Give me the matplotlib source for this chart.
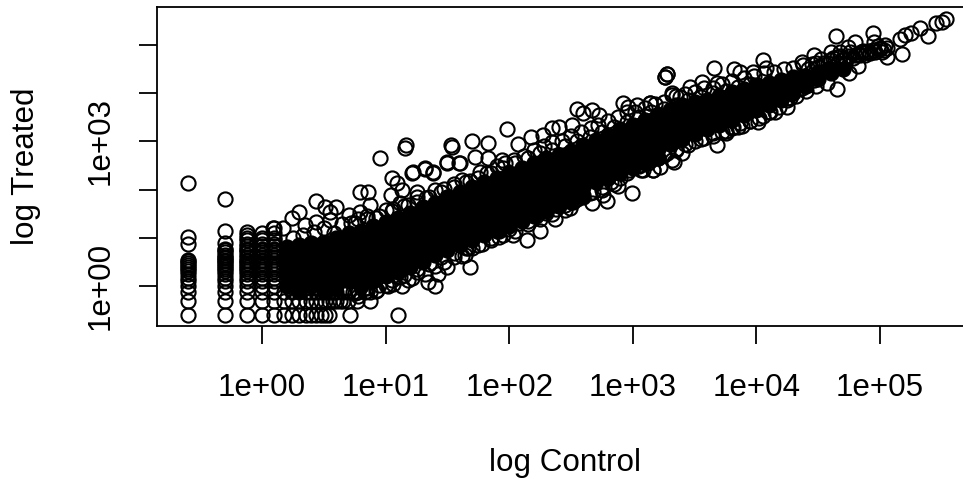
'''
Log-log scatter of treated against control counts, R base graphics look.
Values are read off the picture, as log10 of the counts.
'''
import matplotlib
matplotlib.use("Agg")
import matplotlib.pyplot as plt

plt.rcParams['font.family'] = ['Liberation Sans', 'DejaVu Sans']

W, H = 963, 480

#------------------------------------------------------------------------------#
# Data (log10 control, log10 treated)                                          #
#------------------------------------------------------------------------------#

# the small counts sit on quarter steps, so they fall in columns and rows
col1_x = -0.602
col1_y = [-0.602, -0.301, -0.125, 0, 0.097, 0.176, 0.243, 0.301, 0.352, 0.398, 0.439, 0.477, 0.512, 0.544, 0.87, 1.01, 2.14]
col2_x = -0.301
col2_y = [-0.602, -0.301, -0.125, 0, 0.097, 0.176, 0.243, 0.301, 0.352, 0.398, 0.439, 0.477, 0.512, 0.544, 0.574, 0.602, 0.653, 0.699, 0.74, 0.778, 0.89, 1.14, 1.81]
col3_x = -0.125
col3_y = [-0.602, -0.301, -0.125, 0, 0.097, 0.176, 0.243, 0.301, 0.352, 0.398, 0.439, 0.477, 0.512, 0.544, 0.602, 0.653, 0.699, 0.74, 0.778, 0.83, 0.875, 0.95, 1.0, 1.05, 1.12]
col4_x = 0
col4_y = [-0.602, -0.301, -0.125, 0, 0.097, 0.176, 0.243, 0.301, 0.352, 0.398, 0.439, 0.477, 0.512, 0.544, 0.602, 0.653, 0.699, 0.74, 0.778, 0.83, 0.875, 0.95, 1.0, 1.1]
col5_x = 0.097
col5_y = [-0.602, -0.301, -0.125, 0, 0.097, 0.176, 0.243, 0.301, 0.352, 0.398, 0.439, 0.477, 0.544, 0.602, 0.653, 0.699, 0.74, 0.778, 0.83, 0.875, 0.95, 1.0, 1.1, 1.2]

row1_y = -0.602
row1_x = [0.176, 0.243, 0.301, 0.352, 0.398, 0.439, 0.477, 0.512, 0.544, 0.71, 1.10]
row2_y = -0.301
row2_x = [0.176, 0.243, 0.301, 0.352, 0.398, 0.439, 0.477, 0.512, 0.544, 0.574, 0.602, 0.628, 0.653, 0.699, 0.77, 0.875]
row3_y = -0.125
row3_x = [0.176, 0.243, 0.301, 0.352, 0.398, 0.439, 0.477, 0.512, 0.544, 0.574, 0.602, 0.653, 0.699, 0.74, 0.778, 0.83, 0.875]

# loose circles along the upper edge of the cloud
upper_x = [0.17, 0.09, 0.24, 0.30, 0.35, 0.44, 0.44, 0.51, 0.55, 0.55, 0.60, 0.70, 0.79, 0.79, 0.86, 0.87, 0.955, 1.04, 1.05, 1.09, 1.13, 1.16, 1.165, 1.21, 1.22, 1.25,
           1.32, 1.32, 1.38, 1.38, 1.50, 1.50, 1.53, 1.54, 1.59, 1.60, 1.70, 1.72, 1.83, 1.83, 1.94, 1.98, 2.07, 2.18, 2.27, 2.35, 2.40, 2.51, 2.55, 2.60, 2.67, 2.73,
           2.92, 2.96, 3.03, 3.14, 3.14, 3.26, 3.26, 3.28, 3.28, 3.32, 3.32, 3.38, 3.46, 3.56, 3.66, 3.68, 3.82, 3.87, 3.97, 4.05, 4.08, 4.37, 4.47]
upper_y = [1.20, 1.20, 1.41, 1.54, 1.27, 1.76, 1.33, 1.64, 1.54, 1.37, 1.64, 1.47, 1.95, 1.54, 1.95, 1.68, 2.65, 1.89, 2.24, 2.14, 1.99, 2.86, 2.93, 2.35, 2.37, 1.95,
           2.43, 2.45, 2.34, 2.37, 2.55, 2.57, 2.93, 2.88, 2.55, 2.55, 3.00, 2.68, 2.97, 2.66, 2.61, 3.26, 2.95, 3.09, 3.13, 3.28, 3.30, 3.34, 3.67, 3.59, 3.65, 3.55,
           3.80, 3.71, 3.75, 3.80, 3.80, 4.33, 4.33, 4.40, 4.40, 4.00, 3.96, 3.92, 4.13, 4.23, 4.52, 4.21, 4.50, 4.44, 4.44, 4.69, 4.52, 4.65, 4.79]

# the crowded fringe right above the solid part
fringe_hi_x = [0.25, 0.33, 0.42, 0.50, 0.58, 0.65, 0.72, 0.78, 0.85, 0.92, 1.00, 1.06, 1.12, 1.18, 1.25, 1.33, 1.40, 1.47, 1.55, 1.62, 1.68, 1.76, 1.82, 1.90, 1.97, 2.04, 2.12, 2.20, 2.28,
               2.35, 2.43, 2.50, 2.58, 2.66, 2.72, 2.80, 2.88, 2.95, 3.02, 3.10, 3.18, 3.25, 3.35, 3.42, 3.50, 3.58, 3.65, 3.72, 3.80, 3.90, 3.98, 4.06, 4.14, 4.22, 4.30, 4.38, 4.45]
fringe_hi_y = [1.00, 1.05, 1.12, 1.20, 1.10, 1.28, 1.30, 1.38, 1.45, 1.42, 1.58, 1.60, 1.72, 1.68, 1.85, 1.82, 2.00, 2.02, 2.12, 2.20, 2.18, 2.36, 2.34, 2.48, 2.55, 2.62, 2.70, 2.82, 2.90,
               2.98, 3.00, 3.12, 3.20, 3.28, 3.35, 3.42, 3.50, 3.60, 3.62, 3.70, 3.78, 3.82, 3.95, 3.98, 4.03, 4.10, 4.10, 4.20, 4.25, 4.32, 4.36, 4.42, 4.45, 4.50, 4.52, 4.58, 4.60]
inner_hi_x = [0.75, 0.85, 0.95, 1.05, 1.15, 1.25, 1.35, 1.45, 1.55, 1.65, 1.75, 1.85, 1.95, 2.05, 2.15, 2.25, 2.35, 2.45, 2.55, 2.65, 2.75, 2.85, 2.95, 3.05, 3.15, 3.25, 3.35, 3.45, 3.55, 3.65, 3.75, 3.85, 3.95]
inner_hi_y = [1.30, 1.38, 1.45, 1.55, 1.65, 1.75, 1.85, 1.95, 2.05, 2.15, 2.25, 2.35, 2.45, 2.55, 2.65, 2.75, 2.82, 2.90, 3.00, 3.10, 3.20, 3.30, 3.40, 3.50, 3.60, 3.68, 3.76, 3.85, 3.92, 4.00, 4.05, 4.12, 4.20]

# loose circles along the lower edge of the cloud
lower_x = [0.93, 1.02, 1.13, 1.21, 1.34, 1.40, 1.42, 1.50, 1.64, 1.67, 1.68, 1.92, 2.03, 2.14, 2.25, 2.37, 2.49, 2.67, 2.76, 2.79, 2.88, 2.99, 3.07, 3.08, 3.16, 3.16,
           3.22, 3.32, 3.33, 3.40, 3.68, 3.75, 3.81, 3.87, 4.01, 4.11, 4.25, 4.27, 4.37, 4.47, 4.57, 4.65, 4.75, 4.82]
lower_y = [-0.08, 0.00, 0.00, 0.16, 0.08, 0.00, 0.25, 0.40, 0.64, 0.79, 0.40, 1.02, 1.06, 0.95, 1.14, 1.39, 1.62, 1.72, 1.89, 1.76, 2.07, 1.93, 2.41, 2.41, 2.41, 2.41,
           2.47, 2.61, 2.57, 2.76, 2.93, 3.17, 3.30, 3.38, 3.40, 3.61, 3.90, 3.90, 4.11, 4.27, 4.21, 4.09, 4.42, 4.56]

# the crowded fringe right below the solid part
fringe_lo_x = [0.70, 0.78, 0.85, 0.92, 1.00, 1.06, 1.12, 1.18, 1.25, 1.32, 1.40, 1.47, 1.55, 1.62, 1.70, 1.78, 1.85, 1.92, 2.00, 2.08, 2.15, 2.22, 2.30, 2.38, 2.45, 2.52,
               2.60, 2.68, 2.75, 2.82, 2.90, 2.97, 3.05, 3.12, 3.20, 3.28, 3.35, 3.42, 3.50, 3.58, 3.65, 3.72, 3.80, 3.88, 3.95, 4.02, 4.10, 4.18, 4.25, 4.32, 4.40, 4.48]
fringe_lo_y = [-0.10, -0.20, -0.05, -0.10, 0.02, 0.05, 0.18, 0.12, 0.30, 0.25, 0.42, 0.50, 0.60, 0.62, 0.78, 0.88, 1.00, 1.15, 1.18, 1.30, 1.35, 1.45, 1.52, 1.60, 1.68, 1.75,
               1.88, 1.95, 2.05, 2.15, 2.25, 2.40, 2.50, 2.55, 2.65, 2.75, 2.85, 2.95, 3.00, 3.08, 3.18, 3.20, 3.28, 3.32, 3.42, 3.48, 3.60, 3.72, 3.85, 3.95, 4.05, 4.15]
inner_lo_x = [0.75, 0.85, 0.95, 1.05, 1.15, 1.25, 1.35, 1.45, 1.55, 1.65, 1.75, 1.85, 1.95, 2.05, 2.15, 2.25, 2.35, 2.45, 2.55, 2.65, 2.75, 2.85, 2.95, 3.05, 3.15, 3.25, 3.35, 3.45, 3.55, 3.65, 3.75, 3.85, 3.95, 4.05, 4.15, 4.25]
inner_lo_y = [-0.15, -0.10, 0.02, 0.12, 0.22, 0.35, 0.45, 0.60, 0.68, 0.78, 0.85, 0.95, 1.05, 1.15, 1.28, 1.38, 1.50, 1.58, 1.80, 1.92, 2.00, 2.12, 2.35, 2.52, 2.62, 2.72, 2.82, 2.92, 3.05, 3.12, 3.22, 3.30, 3.42, 3.52, 3.62, 3.72]

# the thin tail at the top right
tail_x = [4.42, 4.48, 4.50, 4.52, 4.55, 4.58, 4.58, 4.60, 4.60, 4.62, 4.62, 4.64, 4.65, 4.66, 4.68, 4.68, 4.70, 4.72, 4.72, 4.74, 4.75, 4.76, 4.78, 4.80, 4.80, 4.82, 4.84, 4.85, 4.86,
          4.88, 4.89, 4.90, 4.92, 4.94, 4.94, 4.95, 4.95, 4.96, 4.98, 5.00, 5.00, 5.02, 5.03, 5.04, 5.06, 5.06, 5.16, 5.18, 5.20, 5.25, 5.32, 5.39, 5.45, 5.50, 5.53]
tail_y = [4.50, 4.62, 4.55, 4.70, 4.62, 4.50, 4.62, 4.68, 4.86, 4.55, 4.72, 5.19, 4.75, 4.62, 4.86, 4.78, 4.70, 4.63, 4.70, 4.96, 4.78, 4.85, 4.72, 4.80, 5.06, 4.82, 4.79, 4.85, 4.88,
          4.80, 4.86, 4.88, 4.84, 4.90, 5.25, 4.90, 5.06, 4.86, 4.97, 4.94, 4.92, 4.86, 4.90, 5.00, 4.94, 4.75, 5.12, 4.81, 5.21, 5.25, 5.35, 5.19, 5.46, 5.48, 5.54]

# the solid part of the cloud, where the circles pile up into pure black
core_x = [0.2, 0.3, 0.4, 0.5, 0.6, 0.7, 0.8, 0.9, 1.0, 1.1, 1.2, 1.3, 1.4, 1.5, 1.6, 1.7, 1.8, 1.9, 2.0, 2.1, 2.2, 2.3, 2.4, 2.5,
          2.6, 2.7, 2.8, 2.9, 3.0, 3.1, 3.2, 3.3, 3.4, 3.5, 3.6, 3.7, 3.8, 3.9, 4.0, 4.1, 4.2, 4.3, 4.4, 4.5, 4.6, 4.7]
core_y = [
    [0, 0.2, 0.4, 0.6, 0.8], [-0.1, 0.1, 0.3, 0.5, 0.7, 0.85], [0, 0.2, 0.4, 0.6, 0.8, 0.9],
    [-0.1, 0.1, 0.3, 0.5, 0.7, 0.9], [0, 0.2, 0.4, 0.6, 0.8, 1.0], [0.1, 0.3, 0.5, 0.7, 0.9, 1.1],
    [0, 0.2, 0.4, 0.6, 0.8, 1.0, 1.15], [0.1, 0.3, 0.5, 0.7, 0.9, 1.1, 1.25], [0.2, 0.4, 0.6, 0.8, 1.0, 1.2, 1.32],
    [0.3, 0.5, 0.7, 0.9, 1.1, 1.3, 1.42], [0.4, 0.6, 0.8, 1.0, 1.2, 1.4, 1.52], [0.5, 0.7, 0.9, 1.1, 1.3, 1.5, 1.63],
    [0.65, 0.85, 1.05, 1.25, 1.45, 1.65, 1.73], [0.75, 0.95, 1.15, 1.35, 1.55, 1.75, 1.84], [0.85, 1.05, 1.25, 1.45, 1.65, 1.85, 1.94],
    [0.95, 1.15, 1.35, 1.55, 1.75, 1.95, 2.05], [1.05, 1.25, 1.45, 1.65, 1.85, 2.05, 2.15], [1.15, 1.35, 1.55, 1.75, 1.95, 2.15, 2.25],
    [1.25, 1.45, 1.65, 1.85, 2.05, 2.25, 2.35], [1.35, 1.55, 1.75, 1.95, 2.15, 2.35, 2.45], [1.45, 1.65, 1.85, 2.05, 2.25, 2.45, 2.55],
    [1.55, 1.75, 1.95, 2.15, 2.35, 2.55, 2.65], [1.65, 1.85, 2.05, 2.25, 2.45, 2.65, 2.72], [1.75, 1.95, 2.15, 2.35, 2.55, 2.75, 2.81],
    [1.85, 2.05, 2.25, 2.45, 2.65, 2.85, 2.92], [2.15, 2.35, 2.55, 2.75, 2.95, 3.03], [2.25, 2.45, 2.65, 2.85, 3.05, 3.13],
    [2.35, 2.55, 2.75, 2.95, 3.15, 3.25], [2.45, 2.65, 2.85, 3.05, 3.25, 3.35], [2.55, 2.75, 2.95, 3.15, 3.35, 3.45],
    [2.65, 2.85, 3.05, 3.25, 3.45, 3.55], [2.95, 3.15, 3.35, 3.55, 3.65], [3.05, 3.25, 3.45, 3.65, 3.75],
    [3.15, 3.35, 3.55, 3.75, 3.82], [3.25, 3.45, 3.65, 3.85], [3.35, 3.55, 3.75, 3.95],
    [3.45, 3.65, 3.85, 4.02], [3.55, 3.75, 3.95, 4.08], [3.65, 3.85, 4.05, 4.16],
    [3.75, 3.95, 4.15, 4.22], [3.85, 4.05, 4.25, 4.28], [4.0, 4.2, 4.33],
    [4.15, 4.35], [4.3, 4.43], [4.42, 4.5], [4.5],
]

xticks = [0, 1, 2, 3, 4, 5]
xticklabels = ["1e+00", "1e+01", "1e+02", "1e+03", "1e+04", "1e+05"]
yticks = [0, 1, 2, 3, 4, 5]
yticklabels = ["1e+00", "", "", "1e+03", "", ""]

#------------------------------------------------------------------------------#
# Plot                                                                         #
#------------------------------------------------------------------------------#

fig = plt.figure(figsize=(W / 100, H / 100), dpi=100)

# the box runs past the right edge of the picture, as in the reference
left, right, top, bottom = 157, 976, 7, 326
ax = fig.add_axes([left / W, 1 - bottom / H, (right - left) / W, (bottom - top) / H])

x_per_decade = 123.6
y_per_decade = 48.2
ax.set_xlim((left - 262) / x_per_decade, (right - 262) / x_per_decade)
ax.set_ylim((286 - bottom) / y_per_decade, (286 - top) / y_per_decade)

ring = dict(linestyle="none", marker="o", markersize=10.2, markerfacecolor="none",
            markeredgecolor="black", markeredgewidth=1.5, clip_on=False)

for cx, cy in [(col1_x, col1_y), (col2_x, col2_y), (col3_x, col3_y), (col4_x, col4_y), (col5_x, col5_y)]:
    ax.plot([cx] * len(cy), cy, **ring)
for ry, rx in [(row1_y, row1_x), (row2_y, row2_x), (row3_y, row3_x)]:
    ax.plot(rx, [ry] * len(rx), **ring)
ax.plot(upper_x, upper_y, **ring)
ax.plot(lower_x, lower_y, **ring)
ax.plot(fringe_hi_x, fringe_hi_y, **ring)
ax.plot(fringe_lo_x, fringe_lo_y, **ring)
ax.plot(inner_hi_x, inner_hi_y, **ring)
ax.plot(inner_lo_x, inner_lo_y, **ring)
ax.plot(tail_x, tail_y, **ring)

solid = dict(ring)
solid["markerfacecolor"] = "black"
for cx, cy in zip(core_x, core_y):
    ax.plot([cx] * len(cy), cy, **solid)

for side in ax.spines.values():
    side.set_linewidth(1.3)

ax.set_xticks(xticks)
ax.set_xticklabels(xticklabels)
ax.set_yticks(yticks)
ax.set_yticklabels(yticklabels, rotation=90, va="center")
ax.tick_params(axis="both", length=13, width=1.3, labelsize=22.6, color="black")
ax.tick_params(axis="x", pad=20.5)
ax.tick_params(axis="y", pad=17)

fig.text(565 / W, 1 - 463 / H, "log Control", fontsize=22.6, ha="center", va="center")
fig.text(26 / W, 1 - 166 / H, "log Treated", fontsize=22.6, ha="center", va="center", rotation=90)

fig.savefig("out.png", dpi=100)
